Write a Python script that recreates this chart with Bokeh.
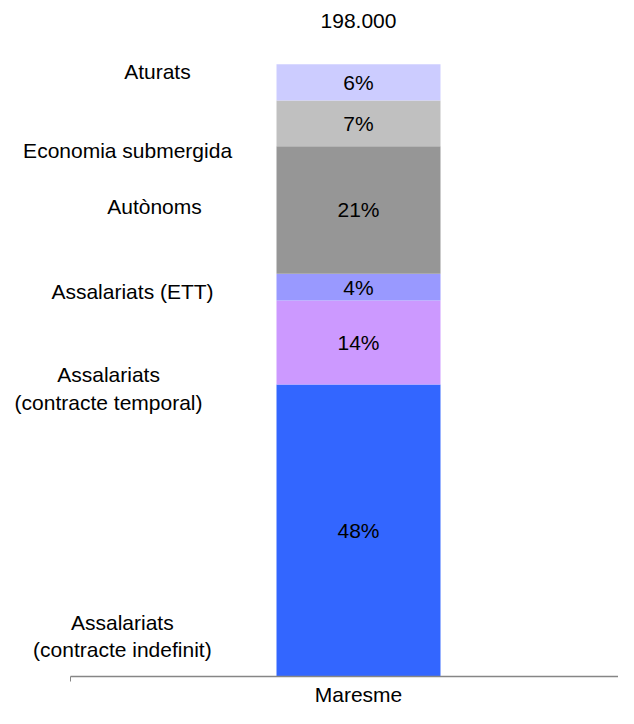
import numpy as np
from bokeh.plotting import figure
from bokeh.models import ColumnDataSource, Range1d, FixedTicker, Label
from bokeh.core.properties import value
from bokeh.embed import file_html
from bokeh.resources import INLINE

# ---- data ----
categories = ["Maresme"]
total_label = "198.000"
series = [
    "Assalariats\n(contracte indefinit)",
    "Assalariats\n(contracte temporal)",
    "Assalariats (ETT)",
    "Autònoms",
    "Economia submergida",
    "Aturats",
]
shares = [47.7, 13.7, 4.4, 20.8, 7.5, 5.9]
pct_labels = ["48%", "14%", "4%", "21%", "7%", "6%"]
colors = ["#3366FF", "#CC99FF", "#9999FF", "#969696", "#C0C0C0", "#CCCCFF"]

FONT = "Liberation Sans"
FS = "21px"

tops = np.cumsum(shares)
bottoms = tops - np.array(shares)
mids = (tops + bottoms) / 2

src = ColumnDataSource(dict(
    x=[0] * len(shares), top=tops, bottom=bottoms, mid=mids,
    color=colors, pct=pct_labels,
))

AXIS_START = -0.878

p = figure(width=618, height=708, output_backend="svg", toolbar_location=None,
           x_range=Range1d(-1.0915, 0.7927), y_range=Range1d(0, 110.42),
           min_border_left=0, min_border_right=0, min_border_top=0,
           min_border_bottom=30)

p.vbar(x="x", top="top", bottom="bottom", width=0.5, fill_color="color",
       line_color=None, source=src)
p.text(x="x", y="mid", text="pct", source=src, text_align="center",
       text_baseline="middle", text_font=value(FONT), text_font_size=FS,
       text_color="#000000")

p.text(x=[0], y=[107.0], text=[total_label], text_align="center",
       text_baseline="middle", text_font=value(FONT), text_font_size=FS,
       text_color="#000000")

# series labels at the left
label_pos = [(-0.720, 6.6), (-0.762, 47.07), (-0.689, 62.87),
             (-0.622, 76.71), (-0.704, 86.0), (-0.613, 98.86)]
for name, (lx, ly) in zip(series, label_pos):
    p.add_layout(Label(x=lx, y=ly, text=name, text_align="center",
                       text_baseline="middle", text_font=FONT,
                       text_font_size=FS, text_color="#000000",
                       text_line_height=1.2))

p.yaxis.visible = False
p.xgrid.visible = False
p.ygrid.visible = False
p.outline_line_color = None
p.background_fill_color = "white"
p.border_fill_color = "white"

xa = p.xaxis[0]
xa.bounds = (AXIS_START, 0.7927)
xa.ticker = FixedTicker(ticks=[0], minor_ticks=[AXIS_START])
xa.major_label_overrides = {0: categories[0]}
xa.major_tick_line_color = None
xa.major_tick_out = 0
xa.major_tick_in = 0
xa.minor_tick_out = 5
xa.minor_tick_in = 0
xa.minor_tick_line_color = "#868686"
xa.axis_line_color = "#868686"
xa.axis_line_width = 1.5
xa.major_label_standoff = 1
xa.major_label_text_font = FONT
xa.major_label_text_font_size = FS
xa.major_label_text_color = "#000000"

open("out.html", "w").write(file_html(p, INLINE))
